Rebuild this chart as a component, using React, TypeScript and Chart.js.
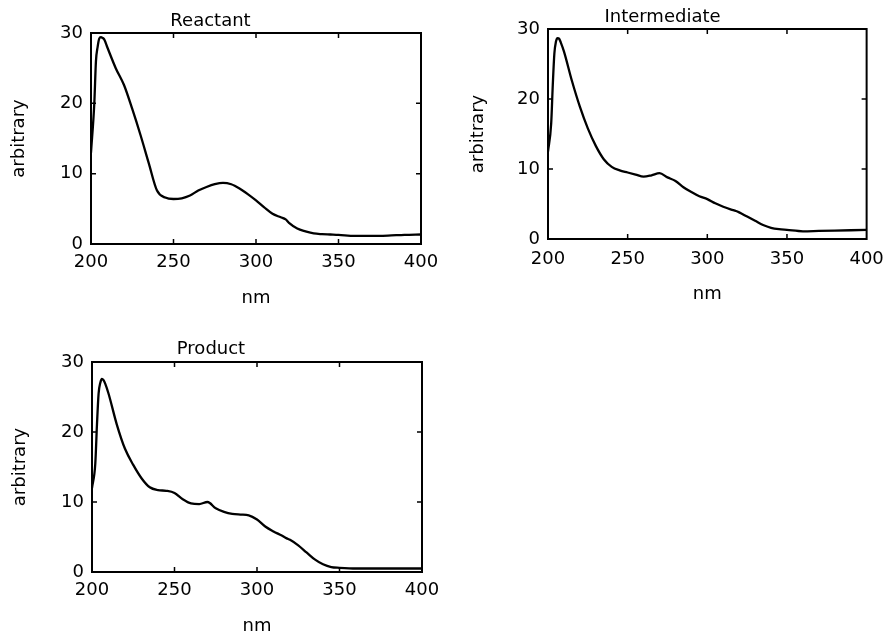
import React, { useEffect, useRef } from "react";
import { Chart, registerables } from "chart.js";

Chart.register(...registerables);

// ---- data ----
const wavelengths = [
  200, 202, 203, 204, 205, 206, 207, 208, 210, 215, 220, 225, 230, 235, 240,
  245, 250, 255, 260, 265, 270, 275, 280, 285, 290, 295, 300, 305, 310, 315,
  318, 320, 325, 330, 335, 340, 345, 350, 360, 370, 380, 390, 400,
];

const reactant = [
  13.0, 20, 26, 28, 29.2, 29.4, 29.3, 29.1, 27.9, 25.0, 22.6, 19.2, 15.5, 11.5,
  7.6, 6.6, 6.4, 6.5, 6.9, 7.6, 8.1, 8.5, 8.7, 8.5, 7.9, 7.1, 6.2, 5.2, 4.3,
  3.8, 3.5, 3.0, 2.2, 1.8, 1.5, 1.4, 1.35, 1.3, 1.15, 1.15, 1.2, 1.3, 1.35,
];

const intermediate = [
  12.5, 16.5, 22, 26.5, 28.2, 28.7, 28.6, 28.1, 26.8, 22.6, 18.9, 15.8, 13.3,
  11.4, 10.3, 9.8, 9.5, 9.2, 8.9, 9.1, 9.4, 8.8, 8.3, 7.4, 6.7, 6.1, 5.7, 5.1,
  4.6, 4.2, 4.0, 3.8, 3.2, 2.6, 2.0, 1.6, 1.4, 1.3, 1.1, 1.15, 1.2, 1.25, 1.3,
];

const product = [
  12, 15.5, 21, 25.5, 27, 27.6, 27.4, 26.9, 25.5, 21.1, 17.6, 15.3, 13.4, 12.1,
  11.7, 11.6, 11.3, 10.4, 9.8, 9.7, 10.0, 9.1, 8.6, 8.3, 8.2, 8.1, 7.5, 6.5,
  5.8, 5.2, 4.8, 4.6, 3.8, 2.8, 1.8, 1.1, 0.7, 0.6, 0.5, 0.5, 0.5, 0.5, 0.5,
];

const panelTitles = ["Reactant", "Intermediate", "Product"];
const xAxisTitle = "nm";
const yAxisTitle = "arbitrary";
const xMin = 200;
const xMax = 400;
const xStep = 50;
const yMin = 0;
const yMax = 30;
const yStep = 10;

const FONT = "'DejaVu Sans', sans-serif";
const FS = 18;

const framePlugin = {
  id: "frame",
  afterDatasetsDraw(chart: any) {
    const { ctx, chartArea } = chart;
    const { left, right, top, bottom } = chartArea;
    const xs = chart.scales.x;
    const ys = chart.scales.y;
    const tl = 5;
    ctx.save();
    ctx.strokeStyle = "#000";
    ctx.lineWidth = 2;
    ctx.strokeRect(left, top, right - left, bottom - top);
    ctx.lineWidth = 1.5;
    ctx.beginPath();
    xs.ticks.forEach((t: any) => {
      if (t.value <= xs.min || t.value >= xs.max) return;
      const px = xs.getPixelForValue(t.value);
      ctx.moveTo(px, bottom);
      ctx.lineTo(px, bottom - tl);
      ctx.moveTo(px, top);
      ctx.lineTo(px, top + tl);
    });
    ys.ticks.forEach((t: any) => {
      if (t.value <= ys.min || t.value >= ys.max) return;
      const py = ys.getPixelForValue(t.value);
      ctx.moveTo(left, py);
      ctx.lineTo(left + tl, py);
      ctx.moveTo(right, py);
      ctx.lineTo(right - tl, py);
    });
    ctx.stroke();
    ctx.restore();
  },
};

type PanelProps = {
  title: string;
  values: number[];
  left: number;
  top: number;
  width: number;
  height: number;
  area: { l: number; t: number; r: number; b: number };
  titlePad: { top: number; bottom: number };
  yTitlePad: number;
  xTitlePad: number;
  xTickPad: number;
};

function Panel(p: PanelProps) {
  const ref = useRef<HTMLCanvasElement | null>(null);
  useEffect(() => {
    if (!ref.current) return;
    const chart = new Chart(ref.current, {
      type: "line",
      data: {
        datasets: [
          {
            data: wavelengths.map((w, i) => ({ x: w, y: p.values[i] })),
            borderColor: "#000",
            borderWidth: 2.3,
            pointRadius: 0,
            fill: false,
            cubicInterpolationMode: "monotone",
          },
        ],
      },
      plugins: [framePlugin],
      options: {
        animation: false,
        responsive: false,
        maintainAspectRatio: false,
        layout: {
          padding: {
            left: 0,
            top: 0,
            right: p.width - p.area.r,
            bottom: 0,
          },
        },
        plugins: {
          legend: { display: false },
          tooltip: { enabled: false },
          title: {
            display: true,
            text: p.title,
            color: "#000",
            font: { family: FONT, size: FS, weight: "normal", lineHeight: 1.2 },
            padding: p.titlePad,
          },
        },
        scales: {
          x: {
            type: "linear",
            min: xMin,
            max: xMax,
            grid: { display: false, drawTicks: false },
            border: { display: false },
            ticks: {
              stepSize: xStep,
              color: "#000",
              padding: p.xTickPad,
              maxRotation: 0,
              font: { family: FONT, size: FS, lineHeight: 1.2 },
            },
            title: {
              display: true,
              text: xAxisTitle,
              color: "#000",
              font: { family: FONT, size: FS, lineHeight: 1 },
              padding: { top: 0, bottom: p.xTitlePad },
            },
            afterFit: (scale: any) => {
              scale.height = p.height - p.area.b;
            },
          },
          y: {
            type: "linear",
            min: yMin,
            max: yMax,
            grid: { display: false, drawTicks: false },
            border: { display: false },
            ticks: {
              stepSize: yStep,
              color: "#000",
              padding: 8,
              font: { family: FONT, size: FS },
            },
            title: {
              display: true,
              text: yAxisTitle,
              color: "#000",
              font: { family: FONT, size: FS, lineHeight: 1.2 },
              padding: { top: p.yTitlePad, bottom: 0 },
            },
            afterFit: (scale: any) => {
              scale.width = p.area.l;
            },
          },
        },
      } as any,
    });
    return () => chart.destroy();
  }, []);
  return (
    <div
      style={{
        position: "absolute",
        left: p.left,
        top: p.top,
        width: p.width,
        height: p.height,
      }}
    >
      <canvas ref={ref} width={p.width} height={p.height} style={{ width: p.width, height: p.height }} />
    </div>
  );
}

export default function App() {
  return (
    <div
      style={{
        position: "absolute",
        left: 0,
        top: 0,
        width: 893,
        height: 635,
        background: "#fff",
        overflow: "hidden",
      }}
    >
      <Panel
        title={panelTitles[0]}
        values={reactant}
        left={0}
        top={0}
        width={450}
        height={320}
        area={{ l: 91, t: 33, r: 421, b: 244 }}
        titlePad={{ top: 10.2, bottom: 1.2 }}
        yTitlePad={8.2}
        xTitlePad={12.3}
        xTickPad={7.7}
      />
      <Panel
        title={panelTitles[1]}
        values={intermediate}
        left={450}
        top={0}
        width={443}
        height={320}
        area={{ l: 98, t: 29, r: 425, b: 239 }}
        titlePad={{ top: 6.7, bottom: 0.7 }}
        yTitlePad={17.2}
        xTitlePad={16.3}
        xTickPad={9.2}
      />
      <Panel
        title={panelTitles[2]}
        values={product}
        left={0}
        top={320}
        width={450}
        height={315}
        area={{ l: 92, t: 42, r: 422, b: 252 }}
        titlePad={{ top: 18.9, bottom: 1.5 }}
        yTitlePad={9.2}
        xTitlePad={0}
        xTickPad={8}
      />
    </div>
  );
}
